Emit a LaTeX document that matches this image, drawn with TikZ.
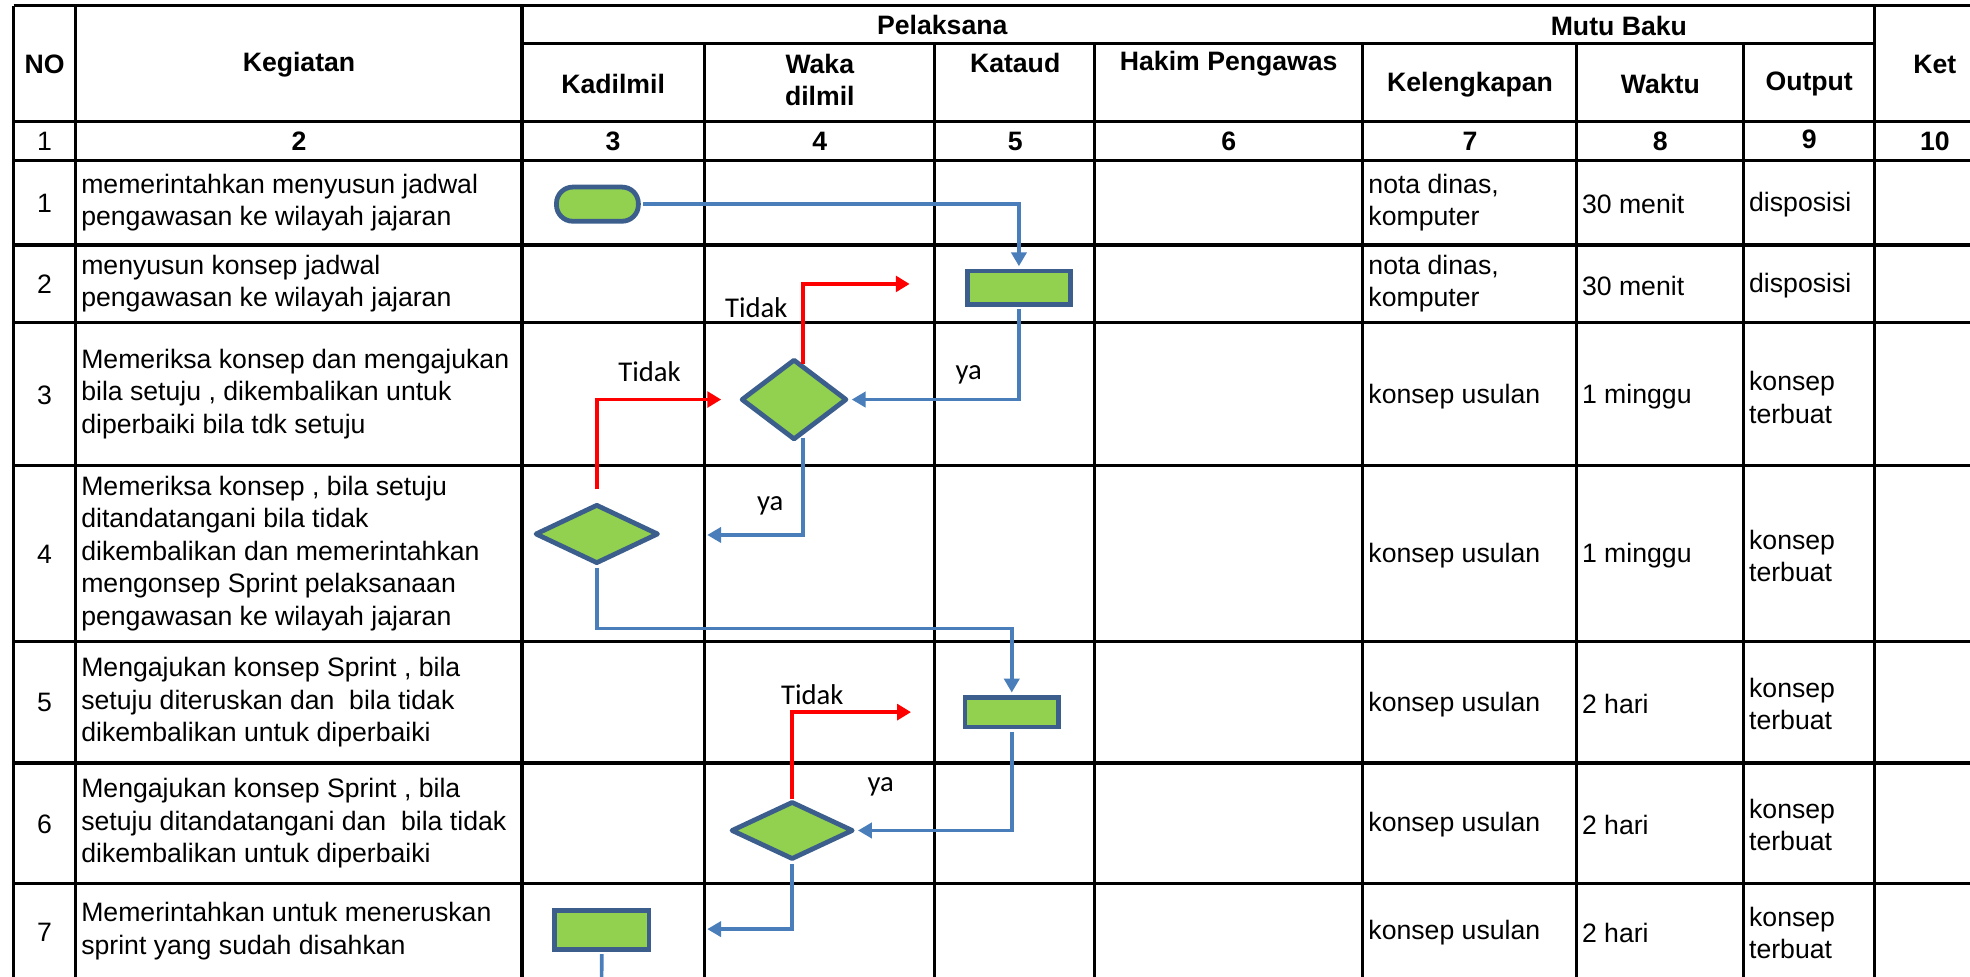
\documentclass[tikz,border=0pt]{standalone}
\usepackage{fontspec}
\setmainfont{Liberation Sans}
\newfontfamily\lblfont{Carlito}
\usetikzlibrary{shapes.geometric,arrows.meta}

\definecolor{shapegreen}{HTML}{92D050}
\definecolor{shapeblue}{HTML}{3B5E8C}
\definecolor{lineblue}{HTML}{4A7EBB}

\tikzstyle{cell}=[inner sep=0pt,
                  font=\fontsize{21.2}{25.8}\selectfont,
                  align=left]
\tikzstyle{headcell}=[inner sep=0pt,
                      font=\fontsize{21.2}{25.8}\selectfont\bfseries,
                      align=center]
\tikzstyle{procnode}=[rectangle,
                      draw=shapeblue,
                      fill=shapegreen,
                      line width=3.8pt,
                      inner sep=0pt]
\tikzstyle{decnode}=[diamond,
                     draw=shapeblue,
                     fill=shapegreen,
                     line width=3.8pt,
                     line join=round,
                     inner sep=0pt]
\tikzstyle{yaline}=[draw=lineblue,
                    line width=2.9pt,
                    shorten <=1.9pt, shorten >=1.9pt,
                    -{Triangle[length=11pt,width=12pt]}]
\tikzstyle{tidakline}=[draw=red,
                       line width=3.1pt,
                       -{Triangle[length=11pt,width=12.5pt]}]
\tikzstyle{lbl}=[inner sep=0pt,
                 font=\lblfont\fontsize{22.8}{26}\selectfont,
                 anchor=base]

\begin{document}
\begin{tikzpicture}[x=1pt,y=-1pt]
    \clip (0,0) rectangle (1568,777);

    % grid
    \draw[line width=2.5pt]
        (10.8,4.5) -- (1600,4.5)
        (415.5,34.5) -- (1492,34.5)
        (10.8,97) -- (1600,97)
        (10.8,127.5) -- (1600,127.5)
        (10.8,195) -- (1600,195)
        (10.8,256.7) -- (1600,256.7)
        (10.8,370.6) -- (1600,370.6)
        (10.8,510.5) -- (1600,510.5)
        (10.8,607.3) -- (1600,607.3)
        (10.8,703) -- (1600,703)
        (10.8,4.5) -- (10.8,800)
        (60.2,4.5) -- (60.2,800)
        (415.5,4.5) -- (415.5,800)
        (1492,4.5) -- (1492,800)
        (561,34.5) -- (561,800)
        (744,34.5) -- (744,800)
        (871,34.5) -- (871,800)
        (1084.5,34.5) -- (1084.5,800)
        (1255,34.5) -- (1255,800)
        (1388,34.5) -- (1388,800);

    % header
    \node [headcell] (hno) at (35.5,51) {NO};
    \node [headcell] (hkeg) at (238,51.5) {Kegiatan};
    \node [headcell] (hpel) at (750,20) {Pelaksana};
    \node [headcell] (hmutu) at (1288.5,20.5) {Mutu Baku};
    \node [headcell] (hkad) at (488,67) {Kadilmil};
    \node [headcell] (hwaka) at (652.5,63.5) {Waka\\dilmil};
    \node [headcell] (hkat) at (808,50.5) {Kataud};
    \node [headcell] (hhakim) at (978,51) {Hakim Pengawas};
    \node [headcell] (hkel) at (1170,67) {Kelengkapan};
    \node [headcell] (hwaktu) at (1321.5,66.5) {Waktu};
    \node [headcell] (hout) at (1440,67) {Output};
    \node [headcell] (hket) at (1540,51) {Ket};

    \node [cell] (k1) at (35.5,112.5) {1};
    \node [headcell] (k2) at (238,112.5) {2};
    \node [headcell] (k3) at (488,112.5) {3};
    \node [headcell] (k4) at (652.5,112.5) {4};
    \node [headcell] (k5) at (808,112.5) {5};
    \node [headcell] (k6) at (978,112.5) {6};
    \node [headcell] (k7) at (1170,112.5) {7};
    \node [headcell] (k8) at (1321.5,112.5) {8};
    \node [headcell] (k9) at (1440,111) {9};
    \node [headcell] (k10) at (1540,112.5) {10};

    % rows
    \node [cell] (no1) at (35.5,162) {1};
    \node [cell] (no2) at (35.5,226.5) {2};
    \node [cell] (no3) at (35.5,314.5) {3};
    \node [cell] (no4) at (35.5,441.5) {4};
    \node [cell] (no5) at (35.5,559.5) {5};
    \node [cell] (no6) at (35.5,656) {6};
    \node [cell] (no7) at (35.5,742) {7};

    \node [cell, anchor=west] (keg1) at (64.5,161.3) {memerintahkan menyusun jadwal\\pengawasan ke wilayah jajaran};
    \node [cell, anchor=west] (keg2) at (64.5,225.9) {menyusun konsep jadwal\\pengawasan ke wilayah jajaran};
    \node [cell, anchor=west] (keg3) at (64.5,313.6) {Memeriksa konsep dan mengajukan\\bila setuju , dikembalikan untuk\\diperbaiki bila tdk setuju};
    \node [cell, anchor=west] (keg4) at (64.5,440.5) {Memeriksa konsep , bila setuju\\ditandatangani bila tidak\\dikembalikan dan memerintahkan\\mengonsep Sprint pelaksanaan\\pengawasan ke wilayah jajaran};
    \node [cell, anchor=west] (keg5) at (64.5,558.9) {Mengajukan konsep Sprint , bila\\setuju diteruskan dan\ \ bila tidak\\dikembalikan untuk diperbaiki};
    \node [cell, anchor=west] (keg6) at (64.5,655.2) {Mengajukan konsep Sprint , bila\\setuju ditandatangani dan\ \ bila tidak\\dikembalikan untuk diperbaiki};
    \node [cell, anchor=west] (keg7) at (64.5,741) {Memerintahkan untuk meneruskan\\sprint yang sudah disahkan};

    \node [cell, anchor=west] (kel1) at (1089,161.3) {nota dinas,\\komputer};
    \node [cell, anchor=west] (kel2) at (1089,225.9) {nota dinas,\\komputer};
    \node [cell, anchor=west] (kel3) at (1089,316) {konsep usulan};
    \node [cell, anchor=west] (kel4) at (1089,442) {konsep usulan};
    \node [cell, anchor=west] (kel5) at (1089,560.5) {konsep usulan};
    \node [cell, anchor=west] (kel6) at (1089,656.5) {konsep usulan};
    \node [cell, anchor=west] (kel7) at (1089,742.5) {konsep usulan};

    \node [cell, anchor=west] (wkt1) at (1259,162.5) {30 menit};
    \node [cell, anchor=west] (wkt2) at (1259,227.5) {30 menit};
    \node [cell, anchor=west] (wkt3) at (1259,316) {1 minggu};
    \node [cell, anchor=west] (wkt4) at (1259,442) {1 minggu};
    \node [cell, anchor=west] (wkt5) at (1259,560.5) {2 hari};
    \node [cell, anchor=west] (wkt6) at (1259,656.5) {2 hari};
    \node [cell, anchor=west] (wkt7) at (1259,742.5) {2 hari};

    \node [cell, anchor=west] (out1) at (1392,162.5) {disposisi};
    \node [cell, anchor=west] (out2) at (1392,227.5) {disposisi};
    \node [cell, anchor=west] (out3) at (1392,316.5) {konsep\\terbuat};
    \node [cell, anchor=west] (out4) at (1392,442.5) {konsep\\terbuat};
    \node [cell, anchor=west] (out5) at (1392,560.5) {konsep\\terbuat};
    \node [cell, anchor=west] (out6) at (1392,656.5) {konsep\\terbuat};
    \node [cell, anchor=west] (out7) at (1392,742.5) {konsep\\terbuat};

    % flow
    \node [procnode, rounded corners=13pt, minimum width=65.2pt, minimum height=27.2pt] (mulai) at (475.5,162.5) {};
    \node [procnode, minimum width=82.2pt, minimum height=26.6pt] (susun) at (811,229) {};
    \node [decnode, minimum width=84.2pt, minimum height=64.2pt] (periksa1) at (632,318) {};
    \node [decnode, minimum width=98.2pt, minimum height=47.2pt] (periksa2) at (475,425) {};
    \node [procnode, minimum width=74.6pt, minimum height=23.6pt] (ajukan1) at (805.3,566.8) {};
    \node [decnode, minimum width=97.2pt, minimum height=46.2pt] (ajukan2) at (630.5,661) {};
    \node [procnode, minimum width=75.2pt, minimum height=31.2pt] (teruskan) at (479,740) {};

    \coordinate (yaend3) at (561,425.8);
    \coordinate (yaend6) at (561,739.5);
    \coordinate (lanjut) at (478.7,800);

    \draw [yaline] (mulai.east) -| (susun.north);
    \draw [yaline] (susun.south) |- (periksa1.east);
    \draw [yaline] (periksa1.-76) |- (yaend3);
    \draw [tidakline] (periksa1.76) |- ([xshift=-44pt,yshift=3pt]susun.west);
    \draw [tidakline] ([yshift=10pt]periksa2.north) |- ([xshift=-14pt]periksa1.west);
    \draw [yaline] (periksa2.south) |- ([yshift=53pt]ajukan1.north) -- (ajukan1.north);
    \draw [yaline] (ajukan1.south) |- (ajukan2.east);
    \draw [tidakline] (ajukan2.north) |- ([xshift=-41pt]ajukan1.west);
    \draw [yaline] (ajukan2.south) |- (yaend6);
    \draw [yaline, -] (teruskan.south) -- (lanjut);

    \node [lbl] (tidak1) at (602,253) {Tidak};
    \node [lbl] (tidak2) at (517,304) {Tidak};
    \node [lbl] (tidak3) at (646.5,561) {Tidak};
    \node [lbl] (ya1) at (771,302) {ya};
    \node [lbl] (ya2) at (613,406) {ya};
    \node [lbl] (ya3) at (701,630) {ya};
\end{tikzpicture}
\end{document}
